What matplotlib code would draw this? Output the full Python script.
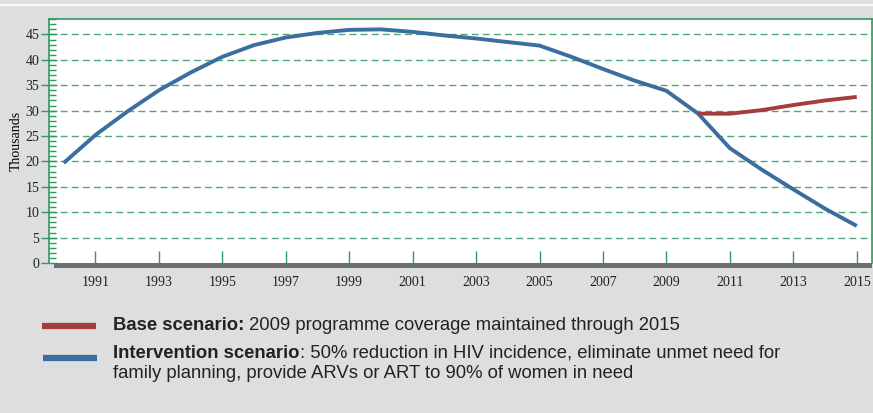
import matplotlib
matplotlib.use('Agg')
import matplotlib.pyplot as plt
from matplotlib.patches import Rectangle
from matplotlib.lines import Line2D
from matplotlib.ticker import MultipleLocator

# data (thousands)
years = list(range(1990, 2016))
intervention = [19.7, 25.2, 29.8, 34.0, 37.5, 40.6, 42.9, 44.4, 45.3, 45.9,
                46.0, 45.5, 44.8, 44.2, 43.5, 42.8, 40.6, 38.2, 35.9, 33.9,
                29.4, 22.6, 18.4, 14.5, 10.7, 7.3]
base_years = list(range(2010, 2016))
base = [29.4, 29.4, 30.1, 31.1, 32.0, 32.7]
xtick_years = list(range(1991, 2016, 2))
yticks = list(range(0, 50, 5))

BG = '#dddee0'
GREEN = '#2f9a5f'
BLUE = '#3b6e9e'
RED = '#a53d3d'

W, H = 873, 413
fig = plt.figure(figsize=(W / 100, H / 100), dpi=100, facecolor=BG)

# thin white line in the top band
fig.add_artist(Line2D([0, 1], [1 - 4.7 / H, 1 - 4.7 / H], transform=fig.transFigure,
                      color='white', lw=1.2))

ax = fig.add_axes([48.5 / W, 150 / H, (872 - 48.5) / W, (263 - 18.7) / H])
ax.set_facecolor('white')
ax.set_xlim(1989.52, 2015.48)
ax.set_ylim(0, 48.1)

for y in yticks[1:]:
    ax.axhline(y, color=GREEN, lw=1.0, ls=(0, (5, 3)), alpha=0.85, zorder=1)

ax.plot(years, intervention, color=BLUE, lw=2.8, zorder=3, solid_capstyle='butt')
ax.plot(base_years, base, color=RED, lw=2.8, zorder=3, solid_capstyle='butt')

for side in ['left', 'top', 'right']:
    ax.spines[side].set_color(GREEN)
    ax.spines[side].set_linewidth(1.2)
ax.spines['bottom'].set_visible(False)

# gray base bar below the axis
fig.add_artist(Rectangle((54 / W, (413 - 268) / H), (872 - 54) / W, 5 / H,
                         transform=fig.transFigure, color='#6e6e6e', lw=0))

ax.set_xticks(xtick_years)
ax.set_xticklabels([str(y) for y in xtick_years])
ax.set_yticks(yticks)
ax.yaxis.set_minor_locator(MultipleLocator(1))
ax.tick_params(axis='x', direction='in', length=9, width=1, color=GREEN, pad=9,
               labelsize=10, labelfontfamily='Liberation Serif')
ax.tick_params(axis='y', which='major', direction='inout', length=11, width=1,
               color=GREEN, pad=1, labelsize=10, labelfontfamily='Liberation Serif')
ax.tick_params(axis='y', which='minor', direction='in', length=5, width=1, color=GREEN)
for lbl in ax.get_xticklabels() + ax.get_yticklabels():
    lbl.set_color('#222222')
ax.set_ylabel('Thousands', fontfamily='Liberation Serif', fontsize=10, labelpad=2)

# legend drawn below
fig.add_artist(Line2D([42 / W, 96 / W], [1 - 325.5 / H] * 2, transform=fig.transFigure,
                      color=RED, lw=4.5, solid_capstyle='butt'))
fig.add_artist(Line2D([43 / W, 97 / W], [1 - 358.3 / H] * 2, transform=fig.transFigure,
                      color=BLUE, lw=4.5, solid_capstyle='butt'))

fs = 13.3
fam = ['Liberation Sans Narrow', 'Liberation Sans', 'DejaVu Sans']
fig.canvas.draw()
r = fig.canvas.get_renderer()

def two_part(x, y, bold, rest):
    t = fig.text(x / W, 1 - y / H, bold, fontsize=fs, fontweight='bold', family=fam,
                 va='center', ha='left', color='#222222')
    bb = t.get_window_extent(renderer=r)
    fig.text(bb.x1 / W, 1 - y / H, rest, fontsize=fs, family=fam,
             va='center', ha='left', color='#222222')

two_part(113, 325, 'Base scenario:', ' 2009 programme coverage maintained through 2015')
two_part(113, 353, 'Intervention scenario',
         ': 50% reduction in HIV incidence, eliminate unmet need for')
fig.text(113 / W, 1 - 374 / H, 'family planning, provide ARVs or ART to 90% of women in need',
         fontsize=fs, family=fam, va='center', ha='left', color='#222222')

fig.savefig('out.png', dpi=100, facecolor=BG)
